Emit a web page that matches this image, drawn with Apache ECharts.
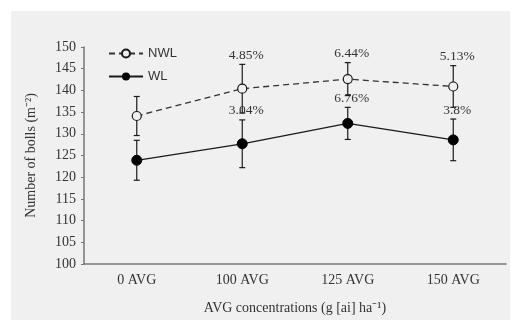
<!DOCTYPE html>
<html>
<head>
<meta charset="utf-8">
<script src="https://cdn.jsdelivr.net/npm/echarts@6/dist/echarts.min.js"></script>
<style>
  html, body { margin: 0; padding: 0; background: #fff; }
  #chart { width: 521px; height: 320px; }
</style>
</head>
<body>
<div id="chart"></div>
<script>
// 数据
var categories = ['0 AVG', '100 AVG', '125 AVG', '150 AVG']
var nwlValues = [134.1, 140.4, 142.6, 140.9]
var nwlErrors = [4.5, 5.6, 3.8, 4.8]
var nwlLabels = ['', '4.85%', '6.44%', '5.13%']
var wlValues = [123.9, 127.7, 132.4, 128.6]
var wlErrors = [4.6, 5.5, 3.7, 4.8]
var wlLabels = ['', '3.04%', '6.76%', '3.8%']

var serif = 'Liberation Serif, Times New Roman, serif'
var ink = '#1a1a1a'

var myChart = echarts.init(document.getElementById('chart'))

// 误差线数据 [x, 下限, 上限, 标签]
function errData(vals, errs, labels) {
  return vals.map(function (v, i) {
    return [i, v - errs[i], v + errs[i], labels[i]]
  })
}

function renderErr(params, api) {
  var x = api.value(0)
  var lo = api.coord([x, api.value(1)])
  var hi = api.coord([x, api.value(2)])
  var w = 3
  var style = { stroke: ink, lineWidth: 1.2 }
  var children = [
    { type: 'line', shape: { x1: hi[0], y1: hi[1], x2: lo[0], y2: lo[1] }, style: style },
    { type: 'line', shape: { x1: hi[0] - w, y1: hi[1], x2: hi[0] + w, y2: hi[1] }, style: style },
    { type: 'line', shape: { x1: lo[0] - w, y1: lo[1], x2: lo[0] + w, y2: lo[1] }, style: style }
  ]
  var txt = api.value(3)
  if (txt) {
    children.push({
      type: 'text',
      z2: 10,
      style: {
        text: txt,
        x: hi[0] + 4,
        y: hi[1] - 2,
        textAlign: 'center',
        textVerticalAlign: 'bottom',
        font: '13.5px ' + serif,
        fill: '#333'
      }
    })
  }
  return { type: 'group', children: children }
}

var option = {
  backgroundColor: '#fff',
  animation: false,
  graphic: [
    {
      type: 'rect',
      z: -10,
      shape: { x: 11, y: 11, width: 499, height: 309 },
      style: { fill: '#f0f0f0' }
    }
  ],
  grid: { left: 84, right: 15, top: 47, bottom: 53 },
  legend: {
    orient: 'vertical',
    left: 103,
    top: 42,
    itemWidth: 34,
    itemHeight: 10,
    itemGap: 10,
    textStyle: { fontFamily: 'Liberation Sans, Arial, sans-serif', fontSize: 13, color: '#333' },
    data: ['NWL', 'WL']
  },
  xAxis: {
    type: 'category',
    data: categories,
    boundaryGap: true,
    name: 'AVG concentrations (g [ai] ha\u207B\u00B9)',
    nameLocation: 'middle',
    nameGap: 37,
    nameTextStyle: { fontFamily: serif, fontSize: 14, color: '#333' },
    axisLine: { lineStyle: { color: '#777', width: 1.5 } },
    axisTick: { inside: true, length: 3, lineStyle: { color: '#777' } },
    axisLabel: { fontFamily: serif, fontSize: 14, color: '#333', margin: 9 }
  },
  yAxis: {
    type: 'value',
    min: 100,
    max: 150,
    interval: 5,
    name: 'Number of bolls (m\u207B\u00B2)',
    nameLocation: 'middle',
    nameRotate: 90,
    nameGap: 46,
    nameTextStyle: { fontFamily: serif, fontSize: 14, color: '#333' },
    axisLine: { show: true, lineStyle: { color: '#777', width: 1.5 } },
    axisTick: { show: true, length: 3, lineStyle: { color: '#777' } },
    axisLabel: { fontFamily: serif, fontSize: 14, color: '#333', margin: 8 },
    splitLine: { show: false }
  },
  series: [
    {
      name: 'NWL',
      type: 'line',
      data: nwlValues,
      symbol: 'circle',
      symbolSize: 9,
      z: 5,
      lineStyle: { color: '#333', width: 1.3, type: [6, 4] },
      itemStyle: { color: '#f0f0f0', borderColor: ink, borderWidth: 1.2 }
    },
    {
      name: 'WL',
      type: 'line',
      data: wlValues,
      symbol: 'circle',
      symbolSize: 10,
      z: 5,
      lineStyle: { color: ink, width: 1.3 },
      itemStyle: { color: '#000', borderColor: '#000' }
    },
    {
      type: 'custom',
      renderItem: renderErr,
      data: errData(nwlValues, nwlErrors, nwlLabels),
      z: 3
    },
    {
      type: 'custom',
      renderItem: renderErr,
      data: errData(wlValues, wlErrors, wlLabels),
      z: 3
    }
  ]
}

myChart.setOption(option)
</script>
</body>
</html>
